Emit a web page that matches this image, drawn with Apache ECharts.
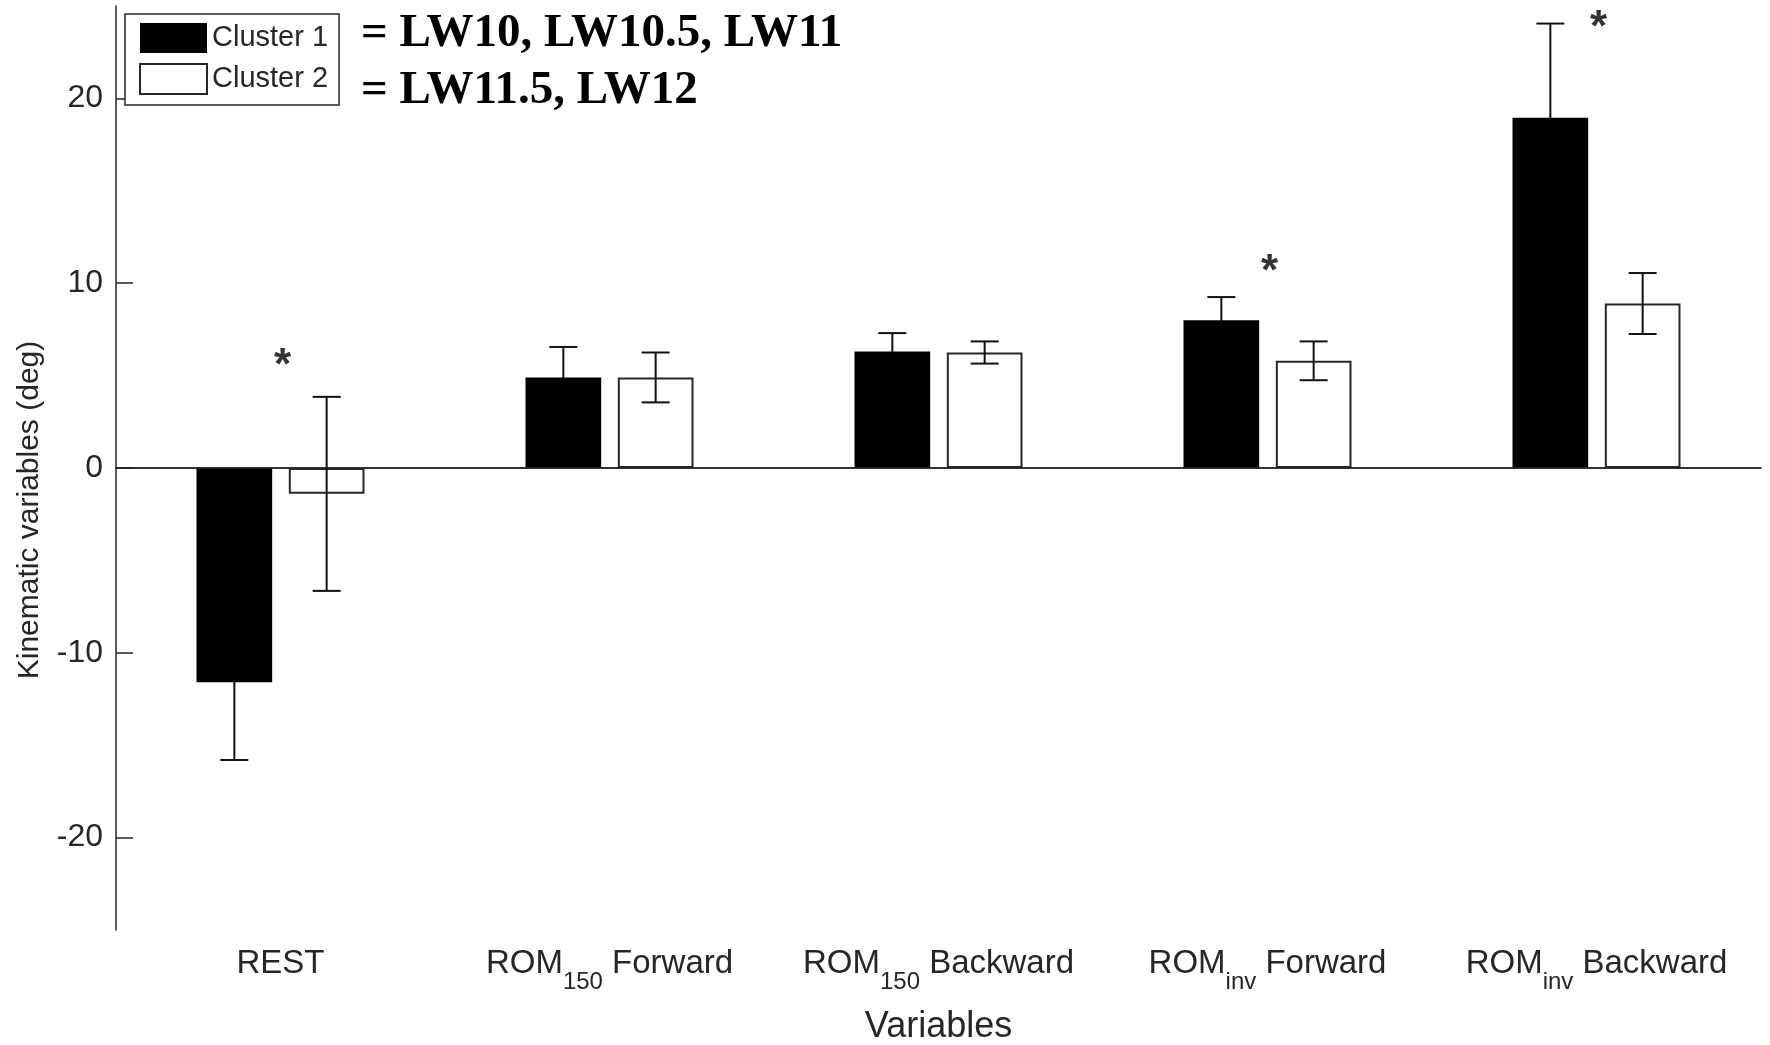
<html>
<head>
<meta charset="utf-8">
<script src="https://cdn.jsdelivr.net/npm/echarts@6/dist/echarts.min.js"></script>
<style>
  html, body { margin: 0; padding: 0; background: #fff; }
  #container { width: 1770px; height: 1045px; }
</style>
</head>
<body>
<div id="container"></div>
<script>
// categories: main word, subscript, trailing word
const categories = ['REST', 'ROM150 Forward', 'ROM150 Backward', 'ROMinv Forward', 'ROMinv Backward'];
const catMain = ['REST', 'ROM', 'ROM', 'ROM', 'ROM'];
const catSub = ['', '150', '150', 'inv', 'inv'];
const catTail = ['', ' Forward', ' Backward', ' Forward', ' Backward'];

const cluster1Mean = [-11.6, 4.9, 6.3, 8.0, 18.95];
const cluster1Err = [4.2, 1.65, 1.0, 1.25, 5.1];
const cluster2Mean = [-1.4, 4.9, 6.25, 5.8, 8.9];
const cluster2Err = [5.25, 1.35, 0.6, 1.05, 1.65];

// significance markers (*)
const sigIndex = [0, 3, 4];
const sigY = [6.0, 11.1, 24.3];

const yTicks = [-20, -10, 0, 10, 20];
const legendNotes = ['= LW10, LW10.5, LW11', '= LW11.5, LW12'];

const FONT = '"Liberation Sans", Arial, sans-serif';
const INK = '#262626';
const BAR_W = 0.23;
const BAR_GAP = 0.22;

function errorSeries(name, means, errs, side, z) {
  return {
    type: 'custom',
    name: name,
    silent: true,
    z: z,
    data: means.map((m, i) => [i, m, errs[i]]),
    renderItem: function (params, api) {
      const i = api.value(0);
      const band = api.size([1, 0])[0];
      const bw = band * BAR_W;
      const shift = side * (bw + bw * BAR_GAP) / 2;
      const hi = api.coord([i, api.value(1) + api.value(2)]);
      const lo = api.coord([i, api.value(1) - api.value(2)]);
      const x = hi[0] + shift;
      const half = 14;
      const st = { stroke: '#111', lineWidth: 2 };
      return {
        type: 'group',
        children: [
          { type: 'line', shape: { x1: x, y1: hi[1], x2: x, y2: lo[1] }, style: st },
          { type: 'line', shape: { x1: x - half, y1: hi[1], x2: x + half, y2: hi[1] }, style: st },
          { type: 'line', shape: { x1: x - half, y1: lo[1], x2: x + half, y2: lo[1] }, style: st }
        ]
      };
    }
  };
}

function renderChart() {
  let mychart = echarts.init(document.getElementById('container'));

  var option = {
    animation: false,
    backgroundColor: '#fff',
    textStyle: { fontFamily: FONT },
    grid: {
      left: 116, right: 9, top: 6, bottom: 115,
      containLabel: false,
      outerBoundsMode: 'none'
    },
    legend: {
      data: ['Cluster 1', 'Cluster 2'],
      orient: 'vertical',
      left: 125,
      top: 14,
      icon: 'rect',
      itemWidth: 67,
      itemHeight: 30,
      itemGap: 10,
      padding: [9, 11, 10, 14],
      borderColor: INK,
      borderWidth: 1.5,
      backgroundColor: '#fff',
      selectedMode: false,
      textStyle: { fontSize: 29, color: INK, fontFamily: FONT }
    },
    graphic: [
      {
        type: 'text', left: 361, top: 10,
        style: { text: legendNotes[0], font: 'bold 47px "Liberation Serif", serif', fill: '#000' }
      },
      {
        type: 'text', left: 361, top: 67,
        style: { text: legendNotes[1], font: 'bold 47px "Liberation Serif", serif', fill: '#000' }
      }
    ],
    xAxis: {
      type: 'category',
      data: categories,
      boundaryGap: true,
      name: 'Variables',
      nameLocation: 'middle',
      nameGap: 79,
      nameTextStyle: { fontSize: 36, color: INK, fontFamily: FONT },
      axisLine: { lineStyle: { color: INK, width: 1.5 } },
      axisTick: { alignWithLabel: true, inside: true, length: 17, lineStyle: { color: INK, width: 1.5 } },
      axisLabel: {
        margin: 6,
        interval: 0,
        formatter: function (v, i) {
          let s = '{a|' + catMain[i] + '}';
          if (catSub[i]) s += '{s|' + catSub[i] + '}{a|' + catTail[i] + '}';
          return s;
        },
        rich: {
          a: { fontSize: 33, lineHeight: 56, color: INK, fontFamily: FONT },
          s: { fontSize: 24, lineHeight: 56, color: INK, fontFamily: FONT, padding: [36, 0, 0, 0] }
        }
      },
      splitLine: { show: false }
    },
    yAxis: {
      type: 'value',
      min: -25,
      max: 25,
      name: 'Kinematic variables (deg)',
      nameLocation: 'middle',
      nameGap: 71,
      nameTextStyle: { fontSize: 30, color: INK, fontFamily: FONT, padding: [0, 84, 0, 0] },
      axisLine: { show: true, lineStyle: { color: INK, width: 1.5 } },
      axisTick: { show: true, inside: true, length: 17, customValues: yTicks, lineStyle: { color: INK, width: 1.5 } },
      axisLabel: { fontSize: 32, color: INK, margin: 13, customValues: yTicks, fontFamily: FONT },
      splitLine: { show: false }
    },
    series: [
      {
        name: 'Cluster 1',
        type: 'bar',
        z: 2,
        data: cluster1Mean,
        barWidth: (BAR_W * 100) + '%',
        barGap: (BAR_GAP * 100) + '%',
        itemStyle: { color: '#000', borderColor: '#000', borderWidth: 0 },
        markLine: {
          silent: true,
          symbol: 'none',
          label: { show: false },
          lineStyle: { color: INK, width: 1.5, type: 'solid' },
          data: [{ yAxis: 0 }]
        }
      },
      {
        name: 'Cluster 2',
        type: 'bar',
        z: 2,
        data: cluster2Mean,
        barWidth: (BAR_W * 100) + '%',
        barGap: (BAR_GAP * 100) + '%',
        itemStyle: { color: '#fff', borderColor: INK, borderWidth: 2 }
      },
      // cluster 1 error bars sit behind the black bars, cluster 2 ones on top
      errorSeries('err1', cluster1Mean, cluster1Err, -1, 1),
      errorSeries('err2', cluster2Mean, cluster2Err, 1, 10),
      {
        name: 'sig',
        type: 'scatter',
        symbolSize: 0,
        silent: true,
        z: 11,
        data: sigIndex.map((c, k) => [c, sigY[k]]),
        label: {
          show: true,
          position: 'inside',
          formatter: '*',
          fontSize: 44,
          fontWeight: 'bold',
          color: '#000',
          textBorderWidth: 0,
          fontFamily: FONT,
          offset: [2, 10]
        }
      }
    ]
  };

  mychart.setOption(option);
}

renderChart();
</script>
</body>
</html>
